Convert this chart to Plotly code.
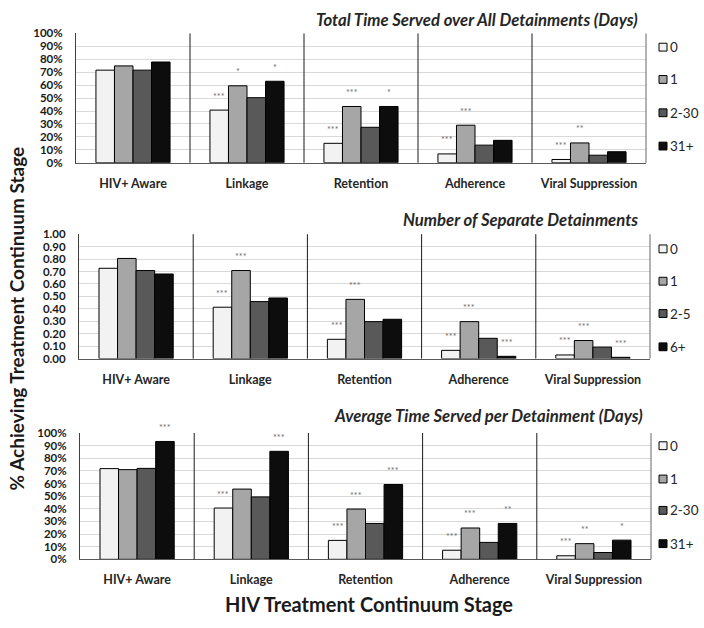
import plotly.graph_objects as go

categories = ["HIV+ Aware", "Linkage", "Retention", "Adherence", "Viral Suppression"]

# Panel 1: Total Time Served over All Detainments (Days) - percent
p1_title = "Total Time Served over All Detainments (Days)"
p1_series = ["0", "1", "2-30", "31+"]
p1_s0 = [71.6, 40.7, 15.0, 6.8, 2.5]
p1_s1 = [74.9, 59.5, 43.5, 29.0, 15.3]
p1_s2 = [71.6, 50.3, 27.4, 13.6, 5.8]
p1_s3 = [77.9, 63.0, 43.5, 17.3, 8.5]
p1_st0 = ["", "***", "***", "***", "***"]
p1_st1 = ["", "*", "***", "***", "**"]
p1_st2 = ["", "", "", "", ""]
p1_st3 = ["", "*", "*", "", ""]

# Panel 2: Number of Separate Detainments - proportion
p2_title = "Number of Separate Detainments"
p2_series = ["0", "1", "2-5", "6+"]
p2_s0 = [0.726, 0.413, 0.155, 0.066, 0.029]
p2_s1 = [0.805, 0.708, 0.476, 0.297, 0.145]
p2_s2 = [0.708, 0.458, 0.297, 0.163, 0.092]
p2_s3 = [0.680, 0.487, 0.316, 0.018, 0.010]
p2_st0 = ["", "***", "***", "***", "***"]
p2_st1 = ["", "***", "***", "***", "***"]
p2_st2 = ["", "", "", "", ""]
p2_st3 = ["", "", "", "***", "***"]

# Panel 3: Average Time Served per Detainment (Days) - percent
p3_title = "Average Time Served per Detainment (Days)"
p3_series = ["0", "1", "2-30", "31+"]
p3_s0 = [71.8, 40.6, 15.0, 7.2, 2.8]
p3_s1 = [71.0, 55.6, 39.8, 24.8, 12.4]
p3_s2 = [72.0, 49.4, 28.4, 13.4, 5.4]
p3_s3 = [93.3, 85.5, 59.2, 28.4, 15.2]
p3_st0 = ["", "***", "***", "***", "***"]
p3_st1 = ["", "", "***", "***", "**"]
p3_st2 = ["", "", "", "", ""]
p3_st3 = ["***", "***", "***", "**", "*"]

y_title = "% Achieving Treatment Continuum Stage"
x_title = "HIV Treatment Continuum Stage"

colors = ["#f2f2f2", "#a6a6a6", "#595959", "#0d0d0d"]
W, H = 704, 628
FONT = "Lato"
BARGAP = 0.35

def px_x(v):
    return v / W

def px_y(v):
    return 1 - v / H

panels = [
    dict(title=p1_title, series=p1_series, vals=[p1_s0, p1_s1, p1_s2, p1_s3],
         stars=[p1_st0, p1_st1, p1_st2, p1_st3],
         x0=76, x1=646, y0=27, y1=159, pct=True, title_y=13, title_x=640,
         leg_y=[41, 74, 108, 142]),
    dict(title=p2_title, series=p2_series, vals=[p2_s0, p2_s1, p2_s2, p2_s3],
         stars=[p2_st0, p2_st1, p2_st2, p2_st3],
         x0=79, x1=650, y0=232, y1=359, pct=False, title_y=218, title_x=640,
         leg_y=[247, 280, 313, 347]),
    dict(title=p3_title, series=p3_series, vals=[p3_s0, p3_s1, p3_s2, p3_s3],
         stars=[p3_st0, p3_st1, p3_st2, p3_st3],
         x0=80, x1=651, y0=435, y1=564, pct=True, title_y=418, title_x=645,
         leg_y=[448, 482, 514, 548]),
]

fig = go.Figure()
annotations = []
shapes = []
xpos = list(range(len(categories)))
nser = 4
gw = 1 - BARGAP
bw = gw / nser

for pi, p in enumerate(panels):
    suffix = "" if pi == 0 else str(pi + 1)
    xa = "x" + suffix
    ya = "y" + suffix
    for si in range(nser):
        fig.add_trace(go.Bar(
            x=xpos, y=p["vals"][si], name=p["series"][si],
            marker=dict(color=colors[si], line=dict(color="#000000", width=1)),
            xaxis=xa, yaxis=ya, showlegend=False,
        ))
        for ci in range(len(categories)):
            s = p["stars"][si][ci]
            if s:
                xc = ci - gw / 2 + bw * (si + 0.5)
                annotations.append(dict(
                    x=xc, y=p["vals"][si][ci], xref=xa, yref=ya, text=s,
                    showarrow=False, yshift=14, yanchor="middle",
                    font=dict(family=FONT, size=9, color="#6e6e6e")))
    ymax = 100 if p["pct"] else 1.0
    yaxis = dict(
        domain=[px_y(p["y1"]), px_y(p["y0"])], range=[0, ymax], anchor=xa,
        dtick=ymax / 10, showgrid=True, gridcolor="#d9d9d9", gridwidth=1,
        showline=True, linecolor="#404040", linewidth=1, ticks="",
        ticklabelstandoff=10, zeroline=False,
        tickfont=dict(family=FONT, size=11.5, color="#1a1a1a", weight="bold"),
    )
    if p["pct"]:
        yaxis["ticksuffix"] = "%"
    else:
        yaxis["tickformat"] = ".2f"
    xaxis = dict(
        domain=[px_x(p["x0"]), px_x(p["x1"])], range=[-0.5, len(categories) - 0.5],
        anchor=ya, tickvals=xpos, ticktext=categories, showgrid=False,
        showline=True, linecolor="#595959", linewidth=1, ticks="", zeroline=False,
        ticklabelstandoff=9,
        tickfont=dict(family=FONT, size=12.5, color="#262626", weight="bold"),
    )
    fig.update_layout(**{"xaxis" + suffix: xaxis, "yaxis" + suffix: yaxis})
    # category separators
    for b in range(1, len(categories)):
        shapes.append(dict(type="line", xref=xa, yref=ya + " domain",
                           x0=b - 0.5, x1=b - 0.5, y0=0, y1=1,
                           line=dict(color="#1a1a1a", width=1)))
    shapes.append(dict(type="line", xref=xa + " domain", yref=ya + " domain",
                       x0=1, x1=1, y0=0, y1=1, line=dict(color="#808080", width=1.2)))
    # panel title
    annotations.append(dict(
        x=px_x(p["title_x"]), y=px_y(p["title_y"]), xref="paper", yref="paper",
        xanchor="right", yanchor="middle", showarrow=False, text=p["title"],
        font=dict(family=FONT, size=16.7, color="#262626", weight="bold", style="italic")))
    # legend
    for si in range(nser):
        yc = p["leg_y"][si]
        shapes.append(dict(type="rect", xref="paper", yref="paper",
                           x0=px_x(659), x1=px_x(667), y0=px_y(yc + 4), y1=px_y(yc - 4),
                           fillcolor=colors[si], line=dict(color="#000000", width=1)))
        annotations.append(dict(
            x=px_x(668), y=px_y(yc), xref="paper", yref="paper", xanchor="left",
            yanchor="middle", showarrow=False, text=p["series"][si],
            font=dict(family=FONT, size=13.5, color="#262626")))

annotations.append(dict(
    x=px_x(16), y=px_y(318), xref="paper", yref="paper", textangle=-90,
    showarrow=False, text=y_title, xanchor="center", yanchor="middle",
    font=dict(family=FONT, size=19, color="#1a1a1a", weight="bold")))
annotations.append(dict(
    x=px_x(369), y=px_y(610), xref="paper", yref="paper",
    showarrow=False, text=x_title, xanchor="center", yanchor="middle",
    font=dict(family=FONT, size=20, color="#1a1a1a", weight="bold")))

fig.update_layout(
    width=W, height=H, margin=dict(l=0, r=0, t=0, b=0),
    paper_bgcolor="white", plot_bgcolor="white",
    barmode="group", bargap=BARGAP, bargroupgap=0,
    annotations=annotations, shapes=shapes, showlegend=False,
    font=dict(family=FONT),
)

fig.write_html("out.html", config={"displayModeBar": False},
               post_script="document.body.style.margin='0';document.body.style.overflow='hidden';")
